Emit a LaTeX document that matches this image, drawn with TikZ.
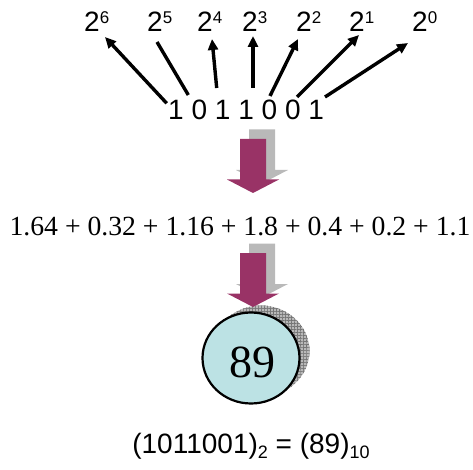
\documentclass[tikz,border=0pt]{standalone}
\usepackage{fontspec}
\setmainfont{Liberation Serif}
\newfontfamily\arialfont{Liberation Sans}
\usetikzlibrary{arrows.meta,calc,patterns,shapes.geometric}
\definecolor{plum}{RGB}{153,51,102}
\definecolor{paleteal}{RGB}{188,226,228}
% power of two with a raised exponent
\newcommand\pw[1]{2\raisebox{7.8pt}{\fontsize{17}{17}\selectfont #1}}
% lowered base index
\newcommand\lowidx[1]{\raisebox{-5pt}{\fontsize{18}{18}\selectfont #1}}
\begin{document}
\begin{tikzpicture}[x=1pt,y=-1pt,
  lbl/.style={font=\arialfont\fontsize{28}{28}\selectfont, inner sep=0pt},
  pwr/.style={lbl, anchor=base west},
  bit/.style={lbl, anchor=base},
  spoke/.style={line width=3.4pt, -{Triangle[length=11pt,width=10pt]}},
  bar/.style={line width=3.4pt},
  hatched/.style={fill=gray!55, postaction={pattern=grid, pattern color=black!55}},
  fatarrow/.pic={\path[pic actions] (-13,-54) -- (13,-54) -- (13,-13.5) -- (26,-13.5)
      -- (0,0) -- (-26,-13.5) -- (-13,-13.5) -- cycle;}]
\useasboundingbox (0,0) rectangle (473,470);

% powers of two
\node[pwr] (p6) at (84,31.5)  {\pw{6}};
\node[pwr] (p5) at (147,31.5) {\pw{5}};
\node[pwr] (p4) at (197,31.5) {\pw{4}};
\node[pwr] (p3) at (242,31.5) {\pw{3}};
\node[pwr] (p2) at (296,31.5) {\pw{2}};
\node[pwr] (p1) at (349,31.5) {\pw{1}};
\node[pwr] (p0) at (412,31.5) {\pw{0}};

% binary digits
\node[bit] (d1) at (176,120)   {1};
\node[bit] (d2) at (199.4,120) {0};
\node[bit] (d3) at (222.7,120) {1};
\node[bit] (d4) at (246.1,120) {1};
\node[bit] (d5) at (269.4,120) {0};
\node[bit] (d6) at (292.8,120) {0};
\node[bit] (d7) at (316.1,120) {1};

% digit-to-weight connectors
\draw[spoke] ($(d1.base)+(-9.3,-16.7)$) -- ($(p6.base west)+(21,5.5)$);
\draw[bar]   ($(d2.base)+(-11.1,-25)$)  -- ($(p5.base west)+(10,10.5)$);
\draw[spoke] ($(d3.base)+(-6,-32)$)     -- ($(p4.base west)+(15,7.5)$);
\draw[spoke] ($(d4.base)+(6.9,-32)$)    -- ($(p3.base west)+(11,4.5)$);
\draw[spoke] ($(d5.base)+(0.6,-24)$)    -- ($(p2.base west)+(2,7.5)$);
\draw[spoke] ($(d6.base)+(4.2,-23)$)    -- ($(p1.base west)+(10,3.5)$);
\draw[spoke] ($(d7.base)+(8.9,-23)$)    -- ($(p0.base west)+(-4,11.5)$);

% first block arrow
\pic[hatched] at (262,183.5) {fatarrow};
\pic[fill=plum] at (253,193) {fatarrow};

% weighted sum
\node[font=\fontsize{27.7}{28}\selectfont, anchor=base, inner sep=0pt] (sum) at (240,235)
  {1.64 + 0.32 + 1.16 + 1.8 + 0.4 + 0.2 + 1.1};

% result disc with extruded shadow
\coordinate (c) at (251,358);
\foreach \k in {10,9,...,1}
  \path[hatched] ($(c)+(\k,-0.7*\k)$) ellipse[x radius=48.5pt, y radius=45.5pt];
\node[ellipse, draw, line width=2.2pt, fill=paleteal, minimum width=97pt,
  minimum height=91pt, inner sep=0pt] (res) at (c) {};
\node[font=\fontsize{46}{46}\selectfont, inner sep=0pt] (val) at ($(res.center)+(1,4)$) {89};

% second block arrow
\pic[hatched] at (262,297.5) {fatarrow};
\pic[fill=plum] at (253,307) {fatarrow};

% conclusion
\node[lbl, anchor=base] (eq) at (251,453) {(1011001)\lowidx{2} = (89)\lowidx{10}};
\end{tikzpicture}
\end{document}
